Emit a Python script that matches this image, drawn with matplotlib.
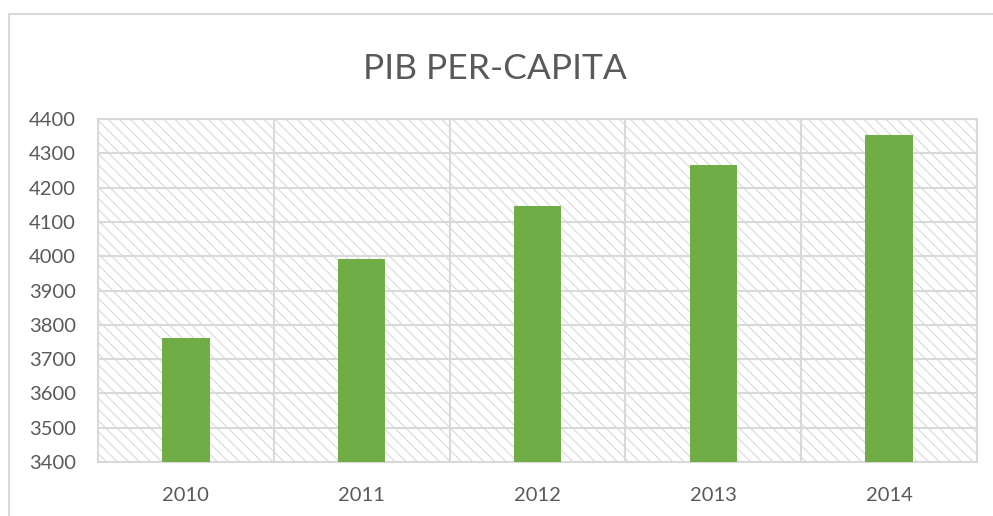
import matplotlib.pyplot as plt
import matplotlib.patches as mpatches
import numpy as np

plt.rcParams['font.family'] = ['Lato', 'DejaVu Sans']
plt.rcParams['hatch.linewidth'] = 0.8
plt.rcParams['hatch.color'] = '#dcdcdc'

# Data
years = ['2010', '2011', '2012', '2013', '2014']
pib_per_capita = [3761, 3991, 4146, 4266, 4353]
y_ticks = [3400, 3500, 3600, 3700, 3800, 3900, 4000, 4100, 4200, 4300, 4400]

fig = plt.figure(figsize=(9.93, 5.16), dpi=100)

# outer chart border (runs off the right and bottom edges)
fig.patches.append(mpatches.Rectangle((9 / 993, -0.05), 1.0, 1 - 14 / 516 + 0.05,
                                      transform=fig.transFigure, fill=False,
                                      edgecolor='#d9d9d9', linewidth=1.5))

ax = fig.add_axes([98 / 993, 1 - 462 / 516, 879 / 993, 343 / 516])

# hatched plot area
ax.patch.set_facecolor('white')
ax.patch.set_hatch('\\\\\\')
ax.patch.set_edgecolor('#d9d9d9')

x = np.arange(len(years))
ax.bar(x, pib_per_capita, width=0.27, color='#70ad47', zorder=3)

ax.set_xlim(-0.5, len(years) - 0.5)
ax.set_ylim(3400, 4400)
ax.set_yticks(y_ticks)
ax.set_xticks(x)
ax.set_xticklabels(years)
ax.set_xticks(np.arange(-0.5, len(years)), minor=True)

ax.grid(axis='y', color='#d9d9d9', linewidth=1.5, zorder=1)
ax.grid(axis='x', which='minor', color='#d9d9d9', linewidth=1.5, zorder=1)
ax.set_axisbelow(True)

ax.tick_params(axis='both', which='both', length=0, labelsize=14.5, colors='#595959')
ax.tick_params(axis='x', pad=18)
ax.tick_params(axis='y', pad=16)

for side in ['top', 'right', 'left', 'bottom']:
    ax.spines[side].set_color('#d9d9d9')
    ax.spines[side].set_linewidth(1.5)

fig.text(495 / 993, 1 - 69 / 516, 'PIB PER-CAPITA', ha='center', va='center',
         fontsize=25.5, color='#595959')

fig.savefig('out.png', dpi=100)
